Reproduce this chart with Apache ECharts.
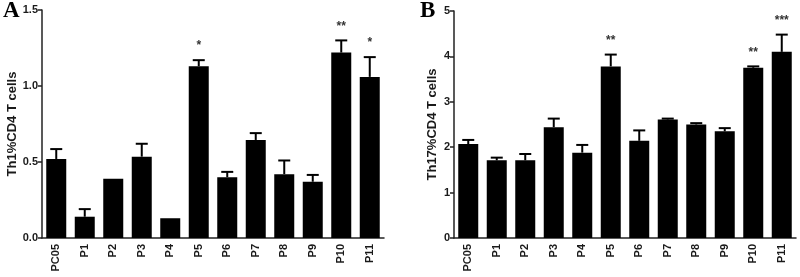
<!DOCTYPE html>
<html>
<head>
<meta charset="utf-8">
<script src="https://cdn.jsdelivr.net/npm/echarts@6/dist/echarts.min.js"></script>
<style>
  html, body { margin: 0; padding: 0; background: #fff; }
  #chart { width: 800px; height: 277px; }
</style>
</head>
<body>
<div id="chart"></div>
<script>
const categories = ['PC05', 'P1', 'P2', 'P3', 'P4', 'P5', 'P6', 'P7', 'P8', 'P9', 'P10', 'P11']

// panel A: Th1
const th1Mean = [0.52, 0.14, 0.39, 0.535, 0.13, 1.13, 0.40, 0.645, 0.42, 0.37, 1.22, 1.06]
const th1Err = [0.065, 0.05, 0, 0.085, 0, 0.04, 0.035, 0.045, 0.09, 0.045, 0.08, 0.13]
const th1Stars = ['', '', '', '', '', '*', '', '', '', '', '**', '*']
const th1Ticks = ['0.0', '0.5', '1.0', '1.5']

// panel B: Th17
const th17Mean = [2.07, 1.71, 1.71, 2.44, 1.88, 3.78, 2.14, 2.61, 2.50, 2.35, 3.75, 4.10]
const th17Err = [0.09, 0.06, 0.14, 0.19, 0.17, 0.26, 0.23, 0.02, 0.03, 0.07, 0.03, 0.38]
const th17Stars = ['', '', '', '', '', '**', '', '', '', '', '**', '***']
const th17Ticks = ['0', '1', '2', '3', '4', '5']

const chart = echarts.init(document.getElementById('chart'))
const txt = '#1a1a1a'
const font = 'Liberation Sans, Arial, sans-serif'

// 误差线 + 星号
const errorSeries = (idx, mean, err, stars) => ({
  type: 'custom',
  xAxisIndex: idx,
  yAxisIndex: idx,
  z: 3,
  data: mean.map((m, i) => [i, m, m + err[i]]),
  renderItem: (params, api) => {
    const i = api.value(0)
    const base = api.coord([i, api.value(1)])
    const top = api.coord([i, api.value(2)])
    const st = { stroke: '#000', lineWidth: 2 }
    const children = []
    if (api.value(2) > api.value(1)) {
      children.push({ type: 'line', shape: { x1: base[0], y1: base[1], x2: top[0], y2: top[1] }, style: st })
      children.push({ type: 'line', shape: { x1: top[0] - 6, y1: top[1], x2: top[0] + 6, y2: top[1] }, style: st })
    }
    if (stars[i]) {
      children.push({
        type: 'text',
        style: { text: stars[i], x: top[0], y: top[1] - 8, align: 'center', verticalAlign: 'bottom', fill: '#333', font: 'bold 12px ' + font }
      })
    }
    return { type: 'group', children }
  }
})

const yAxisBase = (name, gap, max, interval, ticks) => ({
  type: 'value',
  min: 0,
  max: max,
  interval: interval,
  name: name,
  nameLocation: 'middle',
  nameGap: gap,
  nameTextStyle: { color: txt, fontSize: 13, fontWeight: 'bold', fontFamily: font },
  axisLine: { show: true, lineStyle: { color: '#222', width: 1.5 } },
  axisTick: { show: true, length: 4, lineStyle: { color: '#222', width: 1.5 } },
  axisLabel: { color: txt, fontSize: 11, fontWeight: 'bold', fontFamily: font, margin: 4,
    formatter: v => ticks[Math.round(v / interval)] },
  splitLine: { show: false }
})

const xAxisBase = (idx) => ({
  type: 'category',
  gridIndex: idx,
  data: categories,
  axisLine: { lineStyle: { color: '#222', width: 1.5 } },
  axisTick: { show: false },
  axisLabel: { rotate: 90, color: txt, fontSize: 11, fontWeight: 'bold', fontFamily: font, margin: 6, interval: 0 }
})

const option = {
  animation: false,
  graphic: [
    { type: 'text', left: 3, top: 0, style: { text: 'A', font: 'bold 23px "Liberation Serif", "Times New Roman", serif', fill: '#000' } },
    { type: 'text', left: 420, top: 0, style: { text: 'B', font: 'bold 23px "Liberation Serif", "Times New Roman", serif', fill: '#000' } }
  ],
  grid: [
    { left: 42, right: 416, top: 10, bottom: 39 },
    { left: 454, right: 4, top: 11, bottom: 39 }
  ],
  xAxis: [xAxisBase(0), xAxisBase(1)],
  yAxis: [
    Object.assign(yAxisBase('Th1%CD4 T cells', 22, 1.5, 0.5, th1Ticks), { gridIndex: 0 }),
    Object.assign(yAxisBase('Th17%CD4 T cells', 15, 5, 1, th17Ticks), { gridIndex: 1 })
  ],
  series: [
    { type: 'bar', xAxisIndex: 0, yAxisIndex: 0, data: th1Mean, barWidth: 20, itemStyle: { color: '#000' } },
    errorSeries(0, th1Mean, th1Err, th1Stars),
    { type: 'bar', xAxisIndex: 1, yAxisIndex: 1, data: th17Mean, barWidth: 20, itemStyle: { color: '#000' } },
    errorSeries(1, th17Mean, th17Err, th17Stars)
  ]
}

chart.setOption(option)
window.addEventListener('resize', () => chart.resize())
</script>
</body>
</html>
